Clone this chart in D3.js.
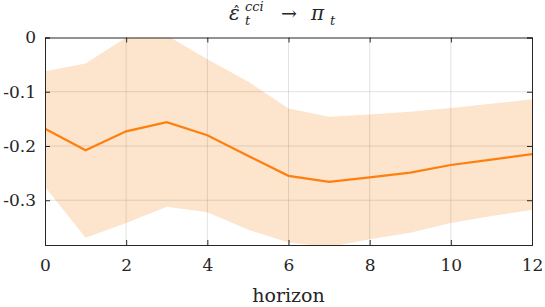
<!DOCTYPE html>
<html lang="en">
<head>
<meta charset="UTF-8"/>
<title>IRF horizon</title>
<script src="https://d3js.org/d3.v7.min.js"></script>
<style>
  body { margin: 0; background: #fff; }
</style>
</head>
<body>
<script>
// horizons and estimates
var horizon = [0, 1, 2, 3, 4, 5, 6, 7, 8, 9, 10, 11, 12];
var median = [-0.168, -0.208, -0.173, -0.156, -0.180, -0.218, -0.255, -0.266, -0.258, -0.249, -0.235, -0.225, -0.215];
var upper = [-0.062, -0.048, 0.000, 0.004, -0.040, -0.081, -0.131, -0.146, -0.142, -0.137, -0.130, -0.122, -0.114];
var lower = [-0.275, -0.369, -0.342, -0.312, -0.322, -0.354, -0.378, -0.386, -0.372, -0.360, -0.342, -0.329, -0.318];
var xTicks = [0, 2, 4, 6, 8, 10, 12];
var yTicks = [0, -0.1, -0.2, -0.3];

var w = 545, h = 307;
var padL = 45, padR = 532, padT = 37.5, padB = 245;
var serif = "'DejaVu Serif', serif";

var x = d3.scaleLinear().domain([0, 12]).range([padL, padR]);
var y = d3.scaleLinear().domain([-0.3825, 0]).range([padB, padT]);

var svg = d3.select("body").append("svg")
    .attr("width", w)
    .attr("height", h);

svg.append("clipPath").attr("id", "plot")
  .append("rect")
    .attr("x", padL).attr("y", padT)
    .attr("width", padR - padL).attr("height", padB - padT);

var data = horizon.map(function(d, i) {
    return {h: d, m: median[i], lo: lower[i], hi: upper[i]};
});

// confidence band
var band = d3.area()
    .x(function(d) { return x(d.h); })
    .y0(function(d) { return y(d.lo); })
    .y1(function(d) { return y(d.hi); });

svg.append("path")
    .datum(data)
    .attr("clip-path", "url(#plot)")
    .attr("d", band)
    .attr("fill", "#fde4cc");

// grid drawn over the band
svg.append("g").selectAll("line")
    .data(xTicks.slice(1, -1))
    .enter().append("line")
    .attr("x1", function(d) { return x(d); })
    .attr("x2", function(d) { return x(d); })
    .attr("y1", padT).attr("y2", padB)
    .attr("stroke", "#262626").attr("stroke-opacity", 0.13).attr("stroke-width", 1);

svg.append("g").selectAll("line")
    .data(yTicks.slice(1))
    .enter().append("line")
    .attr("x1", padL).attr("x2", padR)
    .attr("y1", function(d) { return y(d); })
    .attr("y2", function(d) { return y(d); })
    .attr("stroke", "#262626").attr("stroke-opacity", 0.13).attr("stroke-width", 1);

// median response
var line = d3.line()
    .x(function(d) { return x(d.h); })
    .y(function(d) { return y(d.m); });

svg.append("path")
    .datum(data)
    .attr("clip-path", "url(#plot)")
    .attr("d", line)
    .attr("fill", "none")
    .attr("stroke", "#ff7f0e")
    .attr("stroke-width", 2.2);

// axes with inward ticks, box all round
var xAxis = d3.axisBottom(x).tickValues(xTicks).tickSize(-5).tickPadding(14)
    .tickFormat(d3.format("d"));
var yAxis = d3.axisLeft(y).tickValues(yTicks).tickSize(-5).tickPadding(9)
    .tickFormat(function(d) { return d === 0 ? "0" : "-" + d3.format(".1f")(-d); });

svg.append("g").attr("transform", "translate(0," + padB + ")").call(xAxis);
svg.append("g").attr("transform", "translate(" + padL + ",0)").call(yAxis);
svg.append("g").attr("transform", "translate(0," + padT + ")")
    .call(d3.axisTop(x).tickValues(xTicks).tickSize(-5).tickFormat(""));
svg.append("g").attr("transform", "translate(" + padR + ",0)")
    .call(d3.axisRight(y).tickValues(yTicks).tickSize(-5).tickFormat(""));

svg.selectAll(".domain").attr("stroke", "#262626").attr("stroke-width", 1);
svg.selectAll(".tick line").attr("stroke", "#262626");
svg.selectAll(".tick text")
    .style("font-family", serif)
    .style("font-size", "17px")
    .attr("fill", "#262626");

// x label
svg.append("text")
    .attr("x", (padL + padR) / 2)
    .attr("y", 302)
    .attr("text-anchor", "middle")
    .style("font-family", serif)
    .style("font-size", "19px")
    .attr("fill", "#262626")
    .text("horizon");

// title: eps-hat_t^cci -> pi_t
var title = svg.append("g").attr("fill", "#262626")
    .style("font-family", serif).style("font-style", "italic");
title.append("text").attr("x", 229).attr("y", 20).style("font-size", "20px").text("\u03b5");
title.append("text").attr("x", 233).attr("y", 17).style("font-size", "14px").style("font-style", "normal").text("\u02c6");
title.append("text").attr("x", 245).attr("y", 11).style("font-size", "13px").text("cci");
title.append("text").attr("x", 245).attr("y", 25).style("font-size", "13px").text("t");
title.append("text").attr("x", 281).attr("y", 20).style("font-size", "19px").style("font-style", "normal").text("\u2192");
title.append("text").attr("x", 311).attr("y", 20).style("font-size", "20px").text("\u03c0");
title.append("text").attr("x", 330).attr("y", 25).style("font-size", "13px").text("t");
</script>
</body>
</html>
